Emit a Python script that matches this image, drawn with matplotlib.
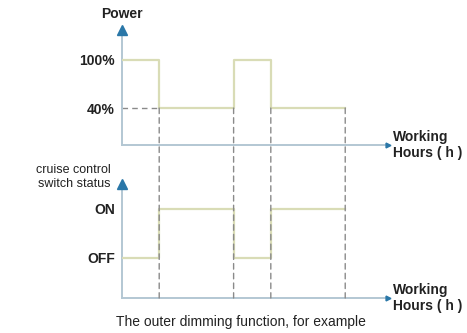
import matplotlib.pyplot as plt
from matplotlib.patches import ConnectionPatch

# switching points in working hours and the levels between them
hours = [0, 1, 3, 4, 6]
power = [100, 40, 100, 40, 40]
switch = [0, 1, 0, 1, 1]
power_ticks = [40, 100]
power_labels = ["40%", "100%"]
switch_ticks = [0, 1]
switch_labels = ["OFF", "ON"]

signal_col = "#d9dcb6"
axis_col = "#b3c7d3"
arrow_col = "#2a77a8"
dash_col = "#8a8a8a"
text_col = "#222222"

plt.rcParams["font.family"] = ["Liberation Sans", "DejaVu Sans"]

fig = plt.figure(figsize=(4.67, 3.33), dpi=100)
ax1 = fig.add_axes([122 / 467, 1 - 145 / 333, (388 - 122) / 467, (145 - 30) / 333])
ax2 = fig.add_axes([122 / 467, 1 - 298 / 333, (388 - 122) / 467, (298 - 184) / 333])
ax1.set_ylim(-6, 137)
ax2.set_ylim(-0.82, 1.51)


def style_axes(ax):
    ax.set_xlim(0, 7.15)
    ax.patch.set_alpha(0)
    for side in ("top", "right"):
        ax.spines[side].set_visible(False)
    for side in ("left", "bottom"):
        ax.spines[side].set_color(axis_col)
        ax.spines[side].set_linewidth(1.4)
    ax.set_xticks([])
    ax.tick_params(axis="y", length=0, pad=5, labelsize=10, labelcolor=text_col)
    # arrowheads at the ends of both axes
    ax.plot(0, 1, marker="^", ms=7, color=arrow_col, transform=ax.transAxes,
            clip_on=False, zorder=5)
    ax.plot(1, 0, marker=">", ms=3.5, color=arrow_col, transform=ax.transAxes,
            clip_on=False, zorder=5)
    ax.text(1.02, 0, "Working\nHours ( h )", transform=ax.transAxes, ha="left",
            va="center", fontsize=10, fontweight="bold", color=text_col,
            linespacing=1.15)


style_axes(ax1)
style_axes(ax2)

ax1.plot(hours, power, drawstyle="steps-post", color=signal_col, lw=1.6, zorder=3)
ax2.plot(hours, switch, drawstyle="steps-post", color=signal_col, lw=1.6, zorder=3)

ax1.set_yticks(power_ticks, power_labels)
ax2.set_yticks(switch_ticks, switch_labels)
for lab in ax1.get_yticklabels() + ax2.get_yticklabels():
    lab.set_fontweight("bold")

# dashed reference lines
ax1.plot([hours[0], hours[1]], [power[1], power[1]], ls=(0, (4, 3)), color=dash_col,
         lw=1, zorder=2)
for t in hours[1:]:
    con = ConnectionPatch(xyA=(t, power_ticks[0]), coordsA=ax1.transData,
                          xyB=(t, ax2.get_ylim()[0]), coordsB=ax2.transData,
                          ls=(0, (4, 3)), color=dash_col, lw=1, zorder=1)
    fig.add_artist(con)

ax1.text(0, 1.08, "Power", transform=ax1.transAxes, ha="center", va="bottom",
         fontsize=10, fontweight="bold", color=text_col)
fig.text(111 / 467, 1 - 177 / 333, "cruise control\nswitch status", ha="right",
         va="center", fontsize=9, color=text_col, linespacing=1.15)

fig.text(0.515, 1 - 322 / 333, "The outer dimming function, for example",
         ha="center", va="center", fontsize=10, color=text_col)

fig.savefig("out.png", dpi=100, facecolor="white")
